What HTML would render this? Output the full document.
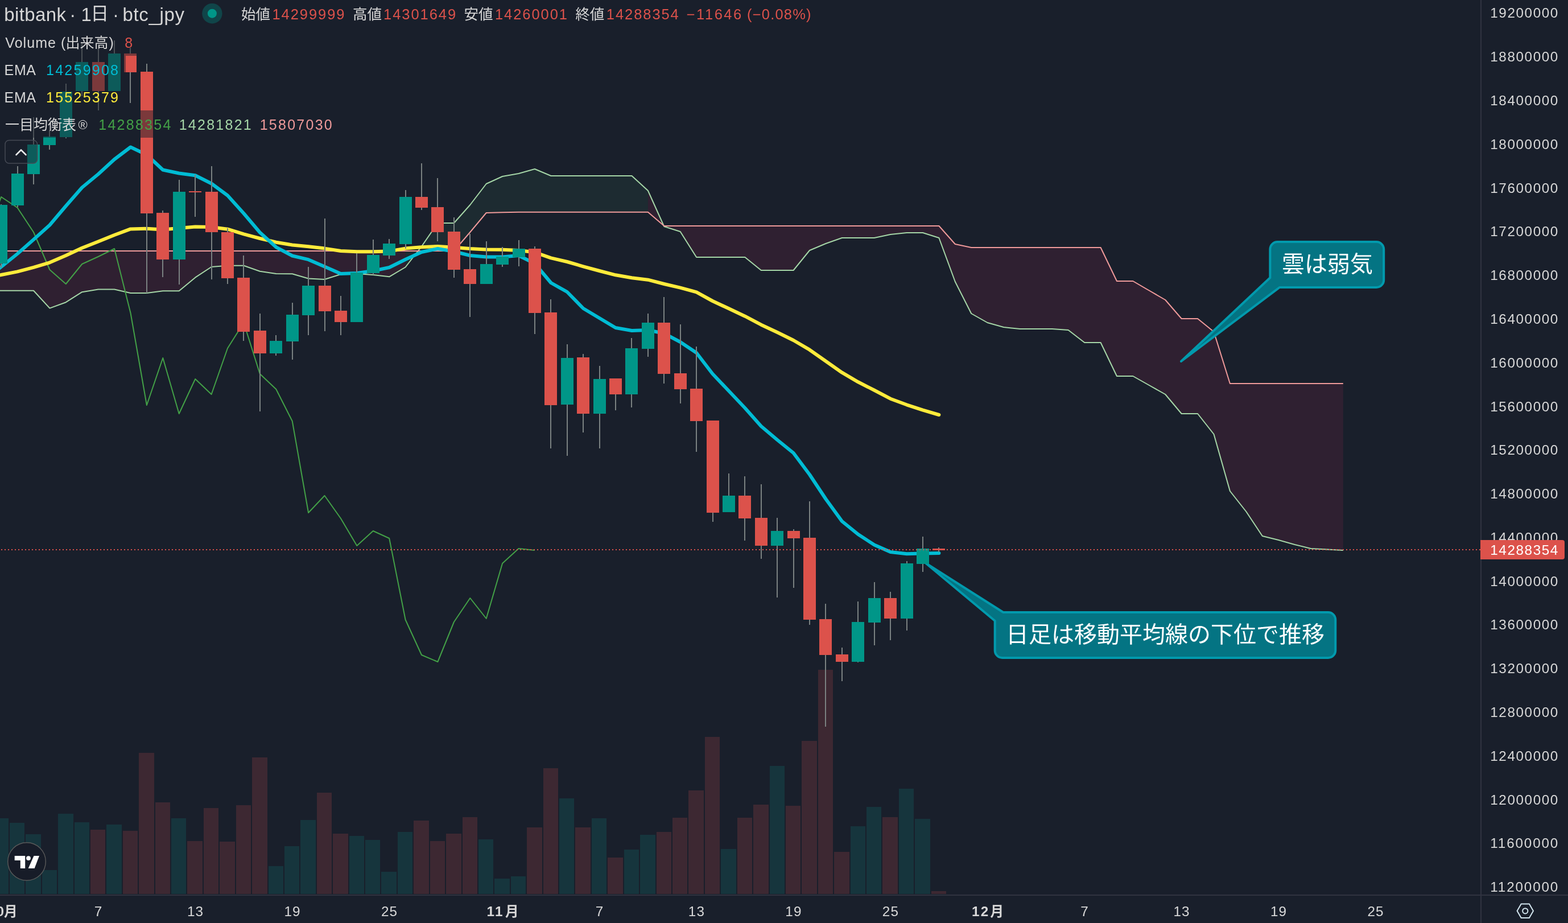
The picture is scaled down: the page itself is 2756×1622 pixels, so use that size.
<!DOCTYPE html><html><head><meta charset="utf-8"><title>chart</title><style>html,body{margin:0;padding:0;background:#191f2b;width:2756px;height:1622px;overflow:hidden}svg text{font-family:"Liberation Sans", "Noto Sans CJK JP", sans-serif;}</style></head><body><svg width="2756" height="1622" viewBox="0 0 2756 1622" style="display:block;will-change:transform">
<rect width="2756" height="1622" fill="#191f2b"/>
<g font-family='"Liberation Sans", "Noto Sans CJK JP", sans-serif'>
<rect x="-12" y="1438" width="27" height="133" fill="#16353d"/>
<rect x="17" y="1446" width="26" height="125" fill="#16353d"/>
<rect x="45" y="1466" width="27" height="105" fill="#16353d"/>
<rect x="74" y="1529" width="26" height="42" fill="#16353d"/>
<rect x="102" y="1430" width="27" height="141" fill="#16353d"/>
<rect x="131" y="1445" width="26" height="126" fill="#16353d"/>
<rect x="159" y="1458" width="26" height="113" fill="#3d2832"/>
<rect x="187" y="1449" width="27" height="122" fill="#16353d"/>
<rect x="216" y="1460" width="26" height="111" fill="#3d2832"/>
<rect x="244" y="1323" width="27" height="248" fill="#3d2832"/>
<rect x="273" y="1410" width="26" height="161" fill="#3d2832"/>
<rect x="301" y="1438" width="26" height="133" fill="#16353d"/>
<rect x="329" y="1478" width="27" height="93" fill="#3d2832"/>
<rect x="358" y="1420" width="26" height="151" fill="#3d2832"/>
<rect x="386" y="1479" width="27" height="92" fill="#3d2832"/>
<rect x="415" y="1415" width="26" height="156" fill="#3d2832"/>
<rect x="443" y="1331" width="27" height="240" fill="#3d2832"/>
<rect x="472" y="1522" width="26" height="49" fill="#16353d"/>
<rect x="500" y="1487" width="26" height="84" fill="#16353d"/>
<rect x="528" y="1441" width="27" height="130" fill="#16353d"/>
<rect x="557" y="1393" width="26" height="178" fill="#3d2832"/>
<rect x="585" y="1465" width="27" height="106" fill="#3d2832"/>
<rect x="614" y="1469" width="26" height="102" fill="#16353d"/>
<rect x="642" y="1476" width="26" height="95" fill="#16353d"/>
<rect x="670" y="1532" width="27" height="39" fill="#16353d"/>
<rect x="699" y="1462" width="26" height="109" fill="#16353d"/>
<rect x="727" y="1442" width="27" height="129" fill="#3d2832"/>
<rect x="756" y="1478" width="26" height="93" fill="#3d2832"/>
<rect x="784" y="1465" width="27" height="106" fill="#3d2832"/>
<rect x="813" y="1436" width="26" height="135" fill="#3d2832"/>
<rect x="841" y="1475" width="26" height="96" fill="#16353d"/>
<rect x="869" y="1544" width="27" height="27" fill="#16353d"/>
<rect x="898" y="1540" width="26" height="31" fill="#16353d"/>
<rect x="926" y="1454" width="27" height="117" fill="#3d2832"/>
<rect x="955" y="1350" width="26" height="221" fill="#3d2832"/>
<rect x="983" y="1403" width="26" height="168" fill="#16353d"/>
<rect x="1011" y="1454" width="27" height="117" fill="#3d2832"/>
<rect x="1040" y="1438" width="26" height="133" fill="#16353d"/>
<rect x="1068" y="1507" width="27" height="64" fill="#3d2832"/>
<rect x="1097" y="1493" width="26" height="78" fill="#16353d"/>
<rect x="1125" y="1467" width="27" height="104" fill="#16353d"/>
<rect x="1154" y="1462" width="26" height="109" fill="#3d2832"/>
<rect x="1182" y="1437" width="26" height="134" fill="#3d2832"/>
<rect x="1210" y="1389" width="27" height="182" fill="#3d2832"/>
<rect x="1239" y="1295" width="26" height="276" fill="#3d2832"/>
<rect x="1267" y="1492" width="27" height="79" fill="#16353d"/>
<rect x="1296" y="1437" width="26" height="134" fill="#3d2832"/>
<rect x="1324" y="1414" width="27" height="157" fill="#3d2832"/>
<rect x="1353" y="1346" width="26" height="225" fill="#16353d"/>
<rect x="1381" y="1416" width="26" height="155" fill="#3d2832"/>
<rect x="1409" y="1302" width="27" height="269" fill="#3d2832"/>
<rect x="1438" y="1177" width="26" height="394" fill="#3d2832"/>
<rect x="1466" y="1497" width="27" height="74" fill="#3d2832"/>
<rect x="1495" y="1452" width="26" height="119" fill="#16353d"/>
<rect x="1523" y="1418" width="26" height="153" fill="#16353d"/>
<rect x="1551" y="1436" width="27" height="135" fill="#3d2832"/>
<rect x="1580" y="1386" width="26" height="185" fill="#16353d"/>
<rect x="1608" y="1439" width="27" height="132" fill="#16353d"/>
<rect x="1637" y="1566" width="26" height="5" fill="#3d2832"/>
<polygon points="-30,510.8 2.1,510.8 30.6,510.8 59.0,510.8 87.4,541.6 115.8,531.2 144.2,513.2 172.7,508.5 201.1,508.5 229.5,515.0 257.9,515.0 286.3,511.3 314.7,511.3 343.2,487.7 371.6,469.0 400.0,466.7 428.4,466.7 456.8,476.8 485.3,481.0 513.7,481.3 542.1,489.5 570.5,491.0 598.9,482.0 627.3,481.0 655.8,483.0 684.2,486.3 712.6,469.5 712.6,441.0 684.2,441.0 655.8,441.0 627.3,441.0 598.9,441.0 570.5,441.0 542.1,441.0 513.7,441.0 485.3,441.0 456.8,441.0 428.4,441.0 400.0,441.0 371.6,441.0 343.2,441.0 314.7,441.0 286.3,441.0 257.9,441.0 229.5,441.0 201.1,441.0 172.7,441.0 144.2,441.0 115.8,441.0 87.4,441.0 59.0,441.0 30.6,441.0 2.1,441.0 -30,441" fill="rgba(244,50,110,0.1)"/>
<polygon points="712.6,469.5 741.0,433.0 769.4,392.0 797.9,392.0 826.3,360.0 854.7,323.0 883.1,310.0 911.5,305.0 939.9,297.0 968.4,309.0 996.8,309.0 1025.2,309.0 1053.6,309.0 1082.0,309.0 1110.5,309.0 1138.9,335.0 1138.9,372.7 1110.5,372.7 1082.0,372.7 1053.6,372.7 1025.2,372.7 996.8,372.7 968.4,372.7 939.9,372.7 911.5,372.7 883.1,373.3 854.7,374.0 826.3,408.0 797.9,441.0 769.4,441.0 741.0,441.0 712.6,441.0" fill="rgba(70,160,110,0.1)"/>
<polygon points="1138.9,335.0 1167.3,398.0 1167.3,397.0 1138.9,372.7" fill="rgba(244,50,110,0.1)"/>
<polygon points="1167.3,398.0 1195.7,407.0 1224.1,452.0 1252.5,452.0 1281.0,452.0 1309.4,452.0 1337.8,475.0 1366.2,475.0 1394.6,475.0 1423.0,440.0 1451.5,428.0 1479.9,418.0 1508.3,418.0 1536.7,418.0 1565.1,412.0 1593.6,409.0 1622.0,409.0 1650.4,418.0 1678.8,495.0 1707.2,551.0 1735.6,567.0 1764.1,575.0 1792.5,578.0 1820.9,578.0 1849.3,578.0 1877.7,580.0 1906.2,602.0 1934.6,602.0 1963.0,661.0 1991.4,661.0 2019.8,677.0 2048.2,693.0 2076.7,727.0 2105.1,727.0 2133.5,763.0 2161.9,863.0 2190.3,899.0 2218.8,942.0 2247.2,949.0 2275.6,957.0 2304.0,964.0 2332.4,965.5 2360.8,967.0 2360.8,674.0 2332.4,674.0 2304.0,674.0 2275.6,674.0 2247.2,674.0 2218.8,674.0 2190.3,674.0 2161.9,674.0 2133.5,583.0 2105.1,560.0 2076.7,560.0 2048.2,527.0 2019.8,510.5 1991.4,494.0 1963.0,494.0 1934.6,435.0 1906.2,435.0 1877.7,435.0 1849.3,435.0 1820.9,435.0 1792.5,435.0 1764.1,435.0 1735.6,435.0 1707.2,435.0 1678.8,429.0 1650.4,397.0 1622.0,397.0 1593.6,397.0 1565.1,397.0 1536.7,397.0 1508.3,397.0 1479.9,397.0 1451.5,397.0 1423.0,397.0 1394.6,397.0 1366.2,397.0 1337.8,397.0 1309.4,397.0 1281.0,397.0 1252.5,397.0 1224.1,397.0 1195.7,397.0 1167.3,397.0" fill="rgba(244,50,110,0.1)"/>
<polyline points="-30,510.8 2.1,510.8 30.6,510.8 59.0,510.8 87.4,541.6 115.8,531.2 144.2,513.2 172.7,508.5 201.1,508.5 229.5,515.0 257.9,515.0 286.3,511.3 314.7,511.3 343.2,487.7 371.6,469.0 400.0,466.7 428.4,466.7 456.8,476.8 485.3,481.0 513.7,481.3 542.1,489.5 570.5,491.0 598.9,482.0 627.3,481.0 655.8,483.0 684.2,486.3 712.6,469.5 741.0,433.0 769.4,392.0 797.9,392.0 826.3,360.0 854.7,323.0 883.1,310.0 911.5,305.0 939.9,297.0 968.4,309.0 996.8,309.0 1025.2,309.0 1053.6,309.0 1082.0,309.0 1110.5,309.0 1138.9,335.0 1167.3,398.0 1195.7,407.0 1224.1,452.0 1252.5,452.0 1281.0,452.0 1309.4,452.0 1337.8,475.0 1366.2,475.0 1394.6,475.0 1423.0,440.0 1451.5,428.0 1479.9,418.0 1508.3,418.0 1536.7,418.0 1565.1,412.0 1593.6,409.0 1622.0,409.0 1650.4,418.0 1678.8,495.0 1707.2,551.0 1735.6,567.0 1764.1,575.0 1792.5,578.0 1820.9,578.0 1849.3,578.0 1877.7,580.0 1906.2,602.0 1934.6,602.0 1963.0,661.0 1991.4,661.0 2019.8,677.0 2048.2,693.0 2076.7,727.0 2105.1,727.0 2133.5,763.0 2161.9,863.0 2190.3,899.0 2218.8,942.0 2247.2,949.0 2275.6,957.0 2304.0,964.0 2332.4,965.5 2360.8,967.0" fill="none" stroke="#a5d6a7" stroke-width="2" stroke-linejoin="round"/>
<polyline points="-30,441 2.1,441.0 30.6,441.0 59.0,441.0 87.4,441.0 115.8,441.0 144.2,441.0 172.7,441.0 201.1,441.0 229.5,441.0 257.9,441.0 286.3,441.0 314.7,441.0 343.2,441.0 371.6,441.0 400.0,441.0 428.4,441.0 456.8,441.0 485.3,441.0 513.7,441.0 542.1,441.0 570.5,441.0 598.9,441.0 627.3,441.0 655.8,441.0 684.2,441.0 712.6,441.0 741.0,441.0 769.4,441.0 797.9,441.0 826.3,408.0 854.7,374.0 883.1,373.3 911.5,372.7 939.9,372.7 968.4,372.7 996.8,372.7 1025.2,372.7 1053.6,372.7 1082.0,372.7 1110.5,372.7 1138.9,372.7 1167.3,397.0 1195.7,397.0 1224.1,397.0 1252.5,397.0 1281.0,397.0 1309.4,397.0 1337.8,397.0 1366.2,397.0 1394.6,397.0 1423.0,397.0 1451.5,397.0 1479.9,397.0 1508.3,397.0 1536.7,397.0 1565.1,397.0 1593.6,397.0 1622.0,397.0 1650.4,397.0 1678.8,429.0 1707.2,435.0 1735.6,435.0 1764.1,435.0 1792.5,435.0 1820.9,435.0 1849.3,435.0 1877.7,435.0 1906.2,435.0 1934.6,435.0 1963.0,494.0 1991.4,494.0 2019.8,510.5 2048.2,527.0 2076.7,560.0 2105.1,560.0 2133.5,583.0 2161.9,674.0 2190.3,674.0 2218.8,674.0 2247.2,674.0 2275.6,674.0 2304.0,674.0 2332.4,674.0 2360.8,674.0" fill="none" stroke="#ef9a9a" stroke-width="2" stroke-linejoin="round"/>
<polyline points="-26.3,428.0 2.1,346.0 30.6,365.0 59.0,408.0 87.4,474.0 115.8,499.0 144.2,464.0 172.7,451.0 201.1,437.0 229.5,550.0 257.9,712.0 286.3,629.0 314.7,727.0 343.2,666.0 371.6,693.0 400.0,612.0 428.4,567.0 456.8,657.0 485.3,684.0 513.7,740.0 542.1,901.0 570.5,871.0 598.9,911.0 627.3,959.0 655.8,933.0 684.2,946.0 712.6,1089.0 741.0,1151.0 769.4,1163.0 797.9,1093.0 826.3,1051.0 854.7,1087.0 883.1,990.0 911.5,964.0 939.9,967.0" fill="none" stroke="#43a047" stroke-width="2" stroke-linejoin="round"/>
<path d="M2245.4,425 H2419.2 A13,13 0 0 1 2432.2,438 V492 A13,13 0 0 1 2419.2,505 H2249 L2076,635 L2232.4,488 V438 A13,13 0 0 1 2245.4,425 Z" fill="#047483" stroke="#029aad" stroke-width="4" stroke-linejoin="round"/>
<text x="2253" y="477.5" font-size="40" fill="#ffffff">雲は弱気</text>
<path d="M1763.3,1076 H2334.3 A13,13 0 0 1 2347.3,1089 V1143 A13,13 0 0 1 2334.3,1156 H1761.7 A13,13 0 0 1 1748.7,1143 V1091 L1627,989.5 Z" fill="#047483" stroke="#029aad" stroke-width="4" stroke-linejoin="round"/>
<text x="1768" y="1129" font-size="40" fill="#ffffff">日足は移動平均線の下位で推移</text>
<polyline points="-30,490 2.1,483.0 30.6,477.4 59.0,469.8 87.4,461.3 115.8,449.0 144.2,435.8 172.7,424.5 201.1,413.0 229.5,402.4 257.9,401.8 286.3,403.5 314.7,401.0 343.2,398.6 371.6,399.0 400.0,402.7 428.4,411.4 456.8,419.0 485.3,425.7 513.7,430.5 542.1,433.3 570.5,436.6 598.9,441.0 627.3,442.3 655.8,442.3 684.2,441.5 712.6,436.6 741.0,434.3 769.4,433.0 797.9,434.7 826.3,437.0 854.7,438.5 883.1,438.7 911.5,440.0 939.9,443.3 968.4,453.3 996.8,460.0 1025.2,468.3 1053.6,476.0 1082.0,483.3 1110.5,488.3 1138.9,491.7 1167.3,499.0 1195.7,505.7 1224.1,513.3 1252.5,529.0 1281.0,542.3 1309.4,555.7 1337.8,570.7 1366.2,584.0 1394.6,598.0 1423.0,614.7 1451.5,634.7 1479.9,654.7 1508.3,671.3 1536.7,685.7 1565.1,700.7 1593.6,711.3 1622.0,720.7 1650.4,729.0" fill="none" stroke="#ffeb3b" stroke-width="6" stroke-linejoin="round" stroke-linecap="round"/>
<polyline points="-30,495 2.1,469.0 30.6,446.0 59.0,421.0 87.4,395.5 115.8,362.0 144.2,329.5 172.7,306.0 201.1,280.0 229.5,258.5 257.9,272.0 286.3,298.5 314.7,304.5 343.2,308.3 371.6,322.5 400.0,343.5 428.4,375.0 456.8,408.5 485.3,434.3 513.7,449.5 542.1,456.2 570.5,468.6 598.9,481.0 627.3,480.0 655.8,476.0 684.2,470.0 712.6,456.0 741.0,443.0 769.4,437.0 797.9,442.0 826.3,449.0 854.7,451.4 883.1,451.5 911.5,449.0 939.9,463.0 968.4,497.0 996.8,513.0 1025.2,542.0 1053.6,559.0 1082.0,576.0 1110.5,581.0 1138.9,580.0 1167.3,586.0 1195.7,601.0 1224.1,620.0 1252.5,657.0 1281.0,687.0 1309.4,717.0 1337.8,749.0 1366.2,773.0 1394.6,796.0 1423.0,834.0 1451.5,877.0 1479.9,916.0 1508.3,939.0 1536.7,957.5 1565.1,970.0 1593.6,973.2 1622.0,972.6 1650.4,971.9" fill="none" stroke="#00bcd4" stroke-width="6" stroke-linejoin="round" stroke-linecap="round"/>
<rect x="1" y="359" width="2" height="111" fill="#7a8181"/>
<rect x="-9" y="360" width="22" height="103" fill="#009688"/>
<rect x="30" y="292" width="2" height="72" fill="#7a8181"/>
<rect x="20" y="305" width="22" height="56" fill="#009688"/>
<rect x="58" y="206" width="2" height="118" fill="#7a8181"/>
<rect x="48" y="254" width="22" height="52" fill="#009688"/>
<rect x="86" y="229" width="2" height="34" fill="#7a8181"/>
<rect x="76" y="240" width="22" height="15" fill="#009688"/>
<rect x="115" y="147" width="2" height="96" fill="#7a8181"/>
<rect x="105" y="161" width="22" height="80" fill="#009688"/>
<rect x="143" y="74" width="2" height="95" fill="#7a8181"/>
<rect x="133" y="109" width="22" height="51" fill="#009688"/>
<rect x="172" y="78" width="2" height="116" fill="#7a8181"/>
<rect x="162" y="109" width="22" height="51" fill="#dc524b"/>
<rect x="200" y="71" width="2" height="89" fill="#7a8181"/>
<rect x="190" y="94" width="22" height="66" fill="#009688"/>
<rect x="228" y="84" width="2" height="97" fill="#7a8181"/>
<rect x="218" y="94" width="22" height="33" fill="#dc524b"/>
<rect x="257" y="112" width="2" height="403" fill="#7a8181"/>
<rect x="247" y="126" width="22" height="249" fill="#dc524b"/>
<rect x="285" y="370" width="2" height="117" fill="#7a8181"/>
<rect x="275" y="374" width="22" height="82" fill="#dc524b"/>
<rect x="314" y="316" width="2" height="184" fill="#7a8181"/>
<rect x="304" y="337" width="22" height="119" fill="#009688"/>
<rect x="342" y="307" width="2" height="74" fill="#7a8181"/>
<rect x="332" y="336" width="22" height="2" fill="#dc524b"/>
<rect x="371" y="292" width="2" height="199" fill="#7a8181"/>
<rect x="361" y="337" width="22" height="71" fill="#dc524b"/>
<rect x="399" y="401" width="2" height="98" fill="#7a8181"/>
<rect x="389" y="408" width="22" height="81" fill="#dc524b"/>
<rect x="427" y="449" width="2" height="150" fill="#7a8181"/>
<rect x="417" y="488" width="22" height="95" fill="#dc524b"/>
<rect x="456" y="551" width="2" height="172" fill="#7a8181"/>
<rect x="446" y="581" width="22" height="40" fill="#dc524b"/>
<rect x="484" y="589" width="2" height="36" fill="#7a8181"/>
<rect x="474" y="599" width="22" height="22" fill="#009688"/>
<rect x="513" y="532" width="2" height="100" fill="#7a8181"/>
<rect x="503" y="553" width="22" height="47" fill="#009688"/>
<rect x="541" y="469" width="2" height="120" fill="#7a8181"/>
<rect x="531" y="502" width="22" height="52" fill="#009688"/>
<rect x="570" y="384" width="2" height="198" fill="#7a8181"/>
<rect x="560" y="502" width="22" height="45" fill="#dc524b"/>
<rect x="598" y="520" width="2" height="69" fill="#7a8181"/>
<rect x="588" y="546" width="22" height="20" fill="#dc524b"/>
<rect x="626" y="445" width="2" height="121" fill="#7a8181"/>
<rect x="616" y="479" width="22" height="87" fill="#009688"/>
<rect x="655" y="421" width="2" height="62" fill="#7a8181"/>
<rect x="645" y="448" width="22" height="32" fill="#009688"/>
<rect x="683" y="420" width="2" height="35" fill="#7a8181"/>
<rect x="673" y="428" width="22" height="21" fill="#009688"/>
<rect x="712" y="334" width="2" height="103" fill="#7a8181"/>
<rect x="702" y="346" width="22" height="83" fill="#009688"/>
<rect x="740" y="287" width="2" height="82" fill="#7a8181"/>
<rect x="730" y="346" width="22" height="19" fill="#dc524b"/>
<rect x="768" y="313" width="2" height="111" fill="#7a8181"/>
<rect x="758" y="364" width="22" height="44" fill="#dc524b"/>
<rect x="797" y="382" width="2" height="106" fill="#7a8181"/>
<rect x="787" y="407" width="22" height="67" fill="#dc524b"/>
<rect x="825" y="411" width="2" height="146" fill="#7a8181"/>
<rect x="815" y="473" width="22" height="26" fill="#dc524b"/>
<rect x="854" y="424" width="2" height="75" fill="#7a8181"/>
<rect x="844" y="464" width="22" height="35" fill="#009688"/>
<rect x="882" y="434" width="2" height="35" fill="#7a8181"/>
<rect x="872" y="451" width="22" height="14" fill="#009688"/>
<rect x="911" y="422" width="2" height="46" fill="#7a8181"/>
<rect x="901" y="437" width="22" height="15" fill="#009688"/>
<rect x="939" y="433" width="2" height="154" fill="#7a8181"/>
<rect x="929" y="437" width="22" height="113" fill="#dc524b"/>
<rect x="967" y="526" width="2" height="262" fill="#7a8181"/>
<rect x="957" y="549" width="22" height="163" fill="#dc524b"/>
<rect x="996" y="605" width="2" height="196" fill="#7a8181"/>
<rect x="986" y="629" width="22" height="82" fill="#009688"/>
<rect x="1024" y="622" width="2" height="138" fill="#7a8181"/>
<rect x="1014" y="628" width="22" height="99" fill="#dc524b"/>
<rect x="1053" y="643" width="2" height="145" fill="#7a8181"/>
<rect x="1043" y="666" width="22" height="61" fill="#009688"/>
<rect x="1081" y="665" width="2" height="56" fill="#7a8181"/>
<rect x="1071" y="665" width="22" height="28" fill="#dc524b"/>
<rect x="1109" y="594" width="2" height="122" fill="#7a8181"/>
<rect x="1099" y="612" width="22" height="81" fill="#009688"/>
<rect x="1138" y="551" width="2" height="76" fill="#7a8181"/>
<rect x="1128" y="567" width="22" height="46" fill="#009688"/>
<rect x="1166" y="522" width="2" height="152" fill="#7a8181"/>
<rect x="1156" y="567" width="22" height="90" fill="#dc524b"/>
<rect x="1195" y="570" width="2" height="139" fill="#7a8181"/>
<rect x="1185" y="656" width="22" height="28" fill="#dc524b"/>
<rect x="1223" y="609" width="2" height="185" fill="#7a8181"/>
<rect x="1213" y="683" width="22" height="57" fill="#dc524b"/>
<rect x="1252" y="739" width="2" height="178" fill="#7a8181"/>
<rect x="1242" y="739" width="22" height="162" fill="#dc524b"/>
<rect x="1280" y="832" width="2" height="68" fill="#7a8181"/>
<rect x="1270" y="871" width="22" height="29" fill="#009688"/>
<rect x="1308" y="837" width="2" height="113" fill="#7a8181"/>
<rect x="1298" y="871" width="22" height="40" fill="#dc524b"/>
<rect x="1337" y="851" width="2" height="131" fill="#7a8181"/>
<rect x="1327" y="910" width="22" height="49" fill="#dc524b"/>
<rect x="1365" y="910" width="2" height="140" fill="#7a8181"/>
<rect x="1355" y="933" width="22" height="26" fill="#009688"/>
<rect x="1394" y="930" width="2" height="103" fill="#7a8181"/>
<rect x="1384" y="933" width="22" height="13" fill="#dc524b"/>
<rect x="1422" y="881" width="2" height="217" fill="#7a8181"/>
<rect x="1412" y="945" width="22" height="144" fill="#dc524b"/>
<rect x="1450" y="1061" width="2" height="216" fill="#7a8181"/>
<rect x="1440" y="1088" width="22" height="63" fill="#dc524b"/>
<rect x="1479" y="1138" width="2" height="59" fill="#7a8181"/>
<rect x="1469" y="1150" width="22" height="13" fill="#dc524b"/>
<rect x="1507" y="1057" width="2" height="107" fill="#7a8181"/>
<rect x="1497" y="1093" width="22" height="70" fill="#009688"/>
<rect x="1536" y="1023" width="2" height="111" fill="#7a8181"/>
<rect x="1526" y="1051" width="22" height="43" fill="#009688"/>
<rect x="1564" y="1040" width="2" height="85" fill="#7a8181"/>
<rect x="1554" y="1051" width="22" height="36" fill="#dc524b"/>
<rect x="1593" y="986" width="2" height="122" fill="#7a8181"/>
<rect x="1583" y="990" width="22" height="97" fill="#009688"/>
<rect x="1621" y="943" width="2" height="62" fill="#7a8181"/>
<rect x="1611" y="964" width="22" height="27" fill="#009688"/>
<rect x="1649" y="962" width="2" height="8" fill="#7a8181"/>
<rect x="1639" y="964" width="22" height="3" fill="#dc524b"/>
<line x1="-4" y1="966" x2="2602" y2="966" stroke="#dc524b" stroke-width="2" stroke-dasharray="2 4"/>
<rect x="0" y="50" width="247" height="48" fill="rgba(25,31,43,0.5)"/>
<rect x="0" y="98" width="221" height="48" fill="rgba(25,31,43,0.5)"/>
<rect x="0" y="146" width="221" height="48" fill="rgba(25,31,43,0.5)"/>
<rect x="0" y="194" width="597" height="48" fill="rgba(25,31,43,0.5)"/>
<rect x="9" y="246.5" width="56.5" height="40.5" rx="7" fill="rgba(25,31,43,0.5)" stroke="#454954" stroke-width="1.5"/>
<polyline points="28.5,272 37,263.5 45.5,272" fill="none" stroke="#e8e8e8" stroke-width="2.6" stroke-linecap="round" stroke-linejoin="round"/>
<text x="7.2" y="37.1" font-size="33" fill="#d6d6d6" textLength="108.9" lengthAdjust="spacing">bitbank</text>
<text x="127.7" y="37.1" font-size="33" fill="#d6d6d6" text-anchor="middle">·</text>
<text x="142.5" y="37.1" font-size="33" fill="#d6d6d6">1</text>
<text x="159.3" y="35.3" font-size="32" fill="#d6d6d6">日</text>
<text x="203.4" y="37.1" font-size="33" fill="#d6d6d6" text-anchor="middle">·</text>
<text x="215.4" y="37.1" font-size="33" fill="#d6d6d6" textLength="108.6" lengthAdjust="spacing">btc_jpy</text>
<circle cx="372.9" cy="23.7" r="17.7" fill="rgba(0,150,136,0.32)"/><circle cx="372.9" cy="23.7" r="8" fill="#009688"/>
<text x="423.9" y="34" font-size="25.5" fill="#d6d6d6">始値</text>
<text x="478.5" y="33.8" font-size="25.5" fill="#dc524b" textLength="127" lengthAdjust="spacing">14299999</text>
<text x="619.9" y="34" font-size="25.5" fill="#d6d6d6">高値</text>
<text x="674.1" y="33.8" font-size="25.5" fill="#dc524b" textLength="127" lengthAdjust="spacing">14301649</text>
<text x="815.5" y="34" font-size="25.5" fill="#d6d6d6">安値</text>
<text x="870.0" y="33.8" font-size="25.5" fill="#dc524b" textLength="127" lengthAdjust="spacing">14260001</text>
<text x="1011.2" y="34" font-size="25.5" fill="#d6d6d6">終値</text>
<text x="1065.8" y="33.8" font-size="25.5" fill="#dc524b" textLength="127" lengthAdjust="spacing">14288354</text>
<text x="1206.7" y="33.8" font-size="25.5" fill="#dc524b" textLength="96.5" lengthAdjust="spacing">−11646</text>
<text x="1313" y="33.8" font-size="25.5" fill="#dc524b" textLength="112.5" lengthAdjust="spacing">(−0.08%)</text>
<text x="9.3" y="84.2" font-size="25" fill="#d6d6d6" textLength="106" lengthAdjust="spacing">Volume (</text>
<text x="115.5" y="83.5" font-size="25" fill="#d6d6d6">出来高</text>
<text x="191.5" y="84.2" font-size="25" fill="#d6d6d6">)</text>
<text x="219.3" y="84.2" font-size="25" fill="#dc524b">8</text>
<text x="7.6" y="132" font-size="25" fill="#d6d6d6" textLength="55.4" lengthAdjust="spacing">EMA</text>
<text x="81" y="132" font-size="25" fill="#00bcd4" textLength="127" lengthAdjust="spacing">14259908</text>
<text x="7.6" y="180" font-size="25" fill="#d6d6d6" textLength="55.4" lengthAdjust="spacing">EMA</text>
<text x="81" y="180" font-size="25" fill="#ffeb3b" textLength="127" lengthAdjust="spacing">15525379</text>
<text x="9" y="227.5" font-size="25" fill="#d6d6d6">一目均衡表</text>
<text x="137.5" y="227.3" font-size="22" fill="#d6d6d6">®</text>
<text x="173.3" y="228" font-size="25" fill="#43a047" textLength="127" lengthAdjust="spacing">14288354</text>
<text x="314.7" y="228" font-size="25" fill="#a5d6a7" textLength="127" lengthAdjust="spacing">14281821</text>
<text x="456.7" y="228" font-size="25" fill="#ef9a9a" textLength="127" lengthAdjust="spacing">15807030</text>
<rect x="2602" y="0" width="154" height="1622" fill="#191f2b"/>
<rect x="0" y="1574" width="2756" height="48" fill="#191f2b"/>
<rect x="0" y="1572" width="2756" height="2" fill="#303340"/>
<rect x="2602" y="0" width="2" height="1622" fill="#303340"/>
<text x="2619.3" y="31.4" font-size="24.3" fill="#d8d8d8" textLength="119" lengthAdjust="spacing">19200000</text>
<text x="2619.3" y="108.2" font-size="24.3" fill="#d8d8d8" textLength="119" lengthAdjust="spacing">18800000</text>
<text x="2619.3" y="185.0" font-size="24.3" fill="#d8d8d8" textLength="119" lengthAdjust="spacing">18400000</text>
<text x="2619.3" y="261.8" font-size="24.3" fill="#d8d8d8" textLength="119" lengthAdjust="spacing">18000000</text>
<text x="2619.3" y="338.5" font-size="24.3" fill="#d8d8d8" textLength="119" lengthAdjust="spacing">17600000</text>
<text x="2619.3" y="415.3" font-size="24.3" fill="#d8d8d8" textLength="119" lengthAdjust="spacing">17200000</text>
<text x="2619.3" y="492.1" font-size="24.3" fill="#d8d8d8" textLength="119" lengthAdjust="spacing">16800000</text>
<text x="2619.3" y="568.9" font-size="24.3" fill="#d8d8d8" textLength="119" lengthAdjust="spacing">16400000</text>
<text x="2619.3" y="645.7" font-size="24.3" fill="#d8d8d8" textLength="119" lengthAdjust="spacing">16000000</text>
<text x="2619.3" y="722.5" font-size="24.3" fill="#d8d8d8" textLength="119" lengthAdjust="spacing">15600000</text>
<text x="2619.3" y="799.2" font-size="24.3" fill="#d8d8d8" textLength="119" lengthAdjust="spacing">15200000</text>
<text x="2619.3" y="876.0" font-size="24.3" fill="#d8d8d8" textLength="119" lengthAdjust="spacing">14800000</text>
<text x="2619.3" y="952.8" font-size="24.3" fill="#d8d8d8" textLength="119" lengthAdjust="spacing">14400000</text>
<text x="2619.3" y="1029.6" font-size="24.3" fill="#d8d8d8" textLength="119" lengthAdjust="spacing">14000000</text>
<text x="2619.3" y="1106.4" font-size="24.3" fill="#d8d8d8" textLength="119" lengthAdjust="spacing">13600000</text>
<text x="2619.3" y="1183.2" font-size="24.3" fill="#d8d8d8" textLength="119" lengthAdjust="spacing">13200000</text>
<text x="2619.3" y="1260.0" font-size="24.3" fill="#d8d8d8" textLength="119" lengthAdjust="spacing">12800000</text>
<text x="2619.3" y="1336.7" font-size="24.3" fill="#d8d8d8" textLength="119" lengthAdjust="spacing">12400000</text>
<text x="2619.3" y="1413.5" font-size="24.3" fill="#d8d8d8" textLength="119" lengthAdjust="spacing">12000000</text>
<text x="2619.3" y="1490.3" font-size="24.3" fill="#d8d8d8" textLength="119" lengthAdjust="spacing">11600000</text>
<text x="2619.3" y="1567.1" font-size="24.3" fill="#d8d8d8" textLength="119" lengthAdjust="spacing">11200000</text>
<path d="M2602,949 H2746 a4,4 0 0 1 4,4 V979 a4,4 0 0 1 -4,4 H2602 Z" fill="#dc524b"/>
<text x="2619.3" y="974.8" font-size="24.3" fill="#ffffff" textLength="119" lengthAdjust="spacing">14288354</text>
<text x="173.1" y="1610" font-size="24.3" fill="#d8d8d8" text-anchor="middle" letter-spacing="1.2">7</text>
<text x="343.6" y="1610" font-size="24.3" fill="#d8d8d8" text-anchor="middle" letter-spacing="1.2">13</text>
<text x="514.1" y="1610" font-size="24.3" fill="#d8d8d8" text-anchor="middle" letter-spacing="1.2">19</text>
<text x="684.6" y="1610" font-size="24.3" fill="#d8d8d8" text-anchor="middle" letter-spacing="1.2">25</text>
<text x="1054.0" y="1610" font-size="24.3" fill="#d8d8d8" text-anchor="middle" letter-spacing="1.2">7</text>
<text x="1224.5" y="1610" font-size="24.3" fill="#d8d8d8" text-anchor="middle" letter-spacing="1.2">13</text>
<text x="1395.0" y="1610" font-size="24.3" fill="#d8d8d8" text-anchor="middle" letter-spacing="1.2">19</text>
<text x="1565.5" y="1610" font-size="24.3" fill="#d8d8d8" text-anchor="middle" letter-spacing="1.2">25</text>
<text x="1906.6" y="1610" font-size="24.3" fill="#d8d8d8" text-anchor="middle" letter-spacing="1.2">7</text>
<text x="2077.1" y="1610" font-size="24.3" fill="#d8d8d8" text-anchor="middle" letter-spacing="1.2">13</text>
<text x="2247.6" y="1610" font-size="24.3" fill="#d8d8d8" text-anchor="middle" letter-spacing="1.2">19</text>
<text x="2418.1" y="1610" font-size="24.3" fill="#d8d8d8" text-anchor="middle" letter-spacing="1.2">25</text>
<text x="-22.2" y="1610" font-size="24.3" fill="#d8d8d8" font-weight="bold" letter-spacing="2.2">10</text><text x="7.05" y="1609.7" font-size="23.6" fill="#d8d8d8" font-weight="bold">月</text>
<text x="855.6" y="1610" font-size="24.3" fill="#d8d8d8" font-weight="bold" letter-spacing="2.2">11</text><text x="888.01" y="1609.7" font-size="23.6" fill="#d8d8d8" font-weight="bold">月</text>
<text x="1708.1" y="1610" font-size="24.3" fill="#d8d8d8" font-weight="bold" letter-spacing="2.2">12</text><text x="1740.55" y="1609.7" font-size="23.6" fill="#d8d8d8" font-weight="bold">月</text>
<polygon points="2695.0,1600.8 2687.9,1613.1 2673.7,1613.1 2666.6,1600.8 2673.7,1588.5 2687.9,1588.5" fill="none" stroke="#d3e6ef" stroke-width="2" stroke-linejoin="round"/>
<circle cx="2680.8" cy="1600.8" r="4.6" fill="none" stroke="#d3e6ef" stroke-width="2"/>
<circle cx="47" cy="1514" r="33.3" fill="#171c28" stroke="#5a5a5a" stroke-width="1.4"/>
<path d="M25.7,1504 H44.2 V1526.1 H35.8 V1511.9 H25.7 Z" fill="#fff"/>
<circle cx="50" cy="1508.1" r="3.9" fill="#fff"/>
<path d="M59.5,1504 H69 L60.6,1526.1 H49.7 Z" fill="#fff"/>
</g></svg></body></html>
